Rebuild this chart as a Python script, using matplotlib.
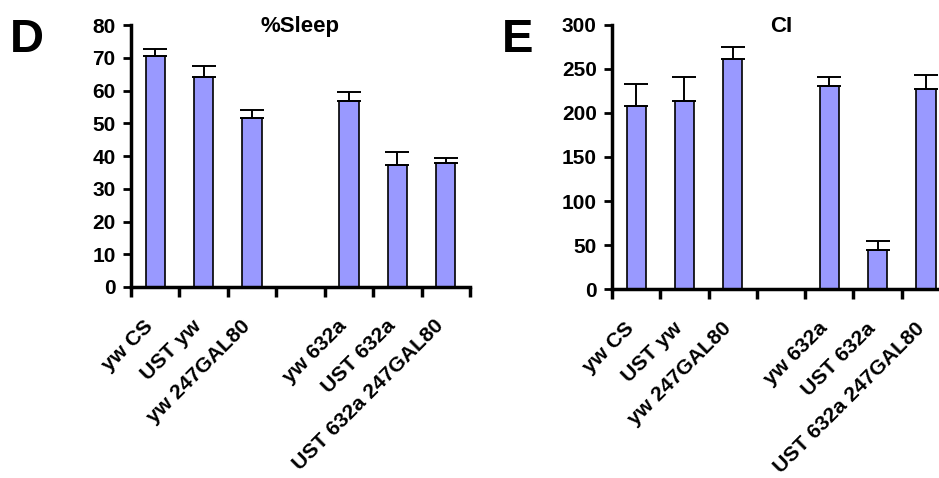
import matplotlib
matplotlib.use("Agg")
import matplotlib.pyplot as plt
import matplotlib.transforms as mtransforms
import numpy as np

plt.rcParams['font.family'] = ['Liberation Sans', 'DejaVu Sans']
plt.rcParams['font.weight'] = 'bold'

categories = ["yw CS", "UST yw", "yw 247GAL80", "", "yw 632a", "UST 632a", "UST 632a 247GAL80"]

sleep_vals = [70.5, 64.2, 51.6, np.nan, 56.9, 37.4, 37.9]
sleep_err = [2.2, 3.3, 2.6, np.nan, 2.7, 3.7, 1.5]

ci_vals = [207.5, 213.0, 260.5, np.nan, 230.8, 44.8, 227.0]
ci_err = [25.5, 27.5, 13.5, np.nan, 10.0, 10.0, 15.5]

sleep_ticks = [0, 10, 20, 30, 40, 50, 60, 70, 80]
ci_ticks = [0, 50, 100, 150, 200, 250, 300]

bar_color = "#9999FF"

fig = plt.figure(figsize=(9.39, 4.78), dpi=100)

def panel(rect, vals, errs, yticks, title, letter, letter_x):
    ax = fig.add_axes(rect)
    n = len(categories)
    x = np.arange(n) + 0.5
    v = np.array(vals, dtype=float)
    e = np.array(errs, dtype=float)
    mask = ~np.isnan(v)
    ax.bar(x[mask], v[mask], width=0.4, color=bar_color, edgecolor='black', linewidth=1.2,
           yerr=[np.zeros(mask.sum()), e[mask]], capsize=8.5,
           error_kw=dict(elinewidth=1.4, capthick=1.4, ecolor='black'), zorder=2)
    ax.set_xlim(0, n)
    ax.set_ylim(yticks[0], yticks[-1])
    ax.set_yticks(yticks)
    ax.set_yticklabels([str(t) for t in yticks], fontsize=15, fontweight='bold')
    ax.set_xticks(np.arange(n + 1))
    ax.set_xticklabels([])
    ax.tick_params(axis='x', which='major', direction='out', length=7, width=2.5)
    ax.tick_params(axis='y', which='major', direction='out', length=6, width=2, pad=5)
    off = mtransforms.ScaledTranslation(-0.01, -0.40, fig.dpi_scale_trans)
    tr = ax.get_xaxis_transform() + off
    for xi, lab in zip(x, categories):
        if lab:
            ax.text(xi, 0, lab, transform=tr, rotation=45, rotation_mode='anchor',
                    ha='right', va='baseline', fontsize=15.2, fontweight='bold',
                    clip_on=False)
    for s in ['top', 'right']:
        ax.spines[s].set_visible(False)
    for s in ['left', 'bottom']:
        ax.spines[s].set_linewidth(2.5)
    ax.spines['bottom'].set_zorder(3)
    ax.text(0.5, 1 - 32 / 478, title, transform=mtransforms.blended_transform_factory(ax.transAxes, fig.transFigure),
            fontsize=16, fontweight='bold', ha='center', va='baseline')
    fig.text(letter_x, 1 - 52 / 478, letter, fontsize=34, fontweight='bold', va='baseline', ha='left')
    return ax

panel([0.1395, 0.3996, 0.3610, 0.548], sleep_vals, sleep_err, sleep_ticks, "%Sleep", "D", 0.010)
panel([0.6518, 0.3947, 0.3600, 0.554], ci_vals, ci_err, ci_ticks, "CI", "E", 0.535)

fig.savefig("out.png", dpi=100)
